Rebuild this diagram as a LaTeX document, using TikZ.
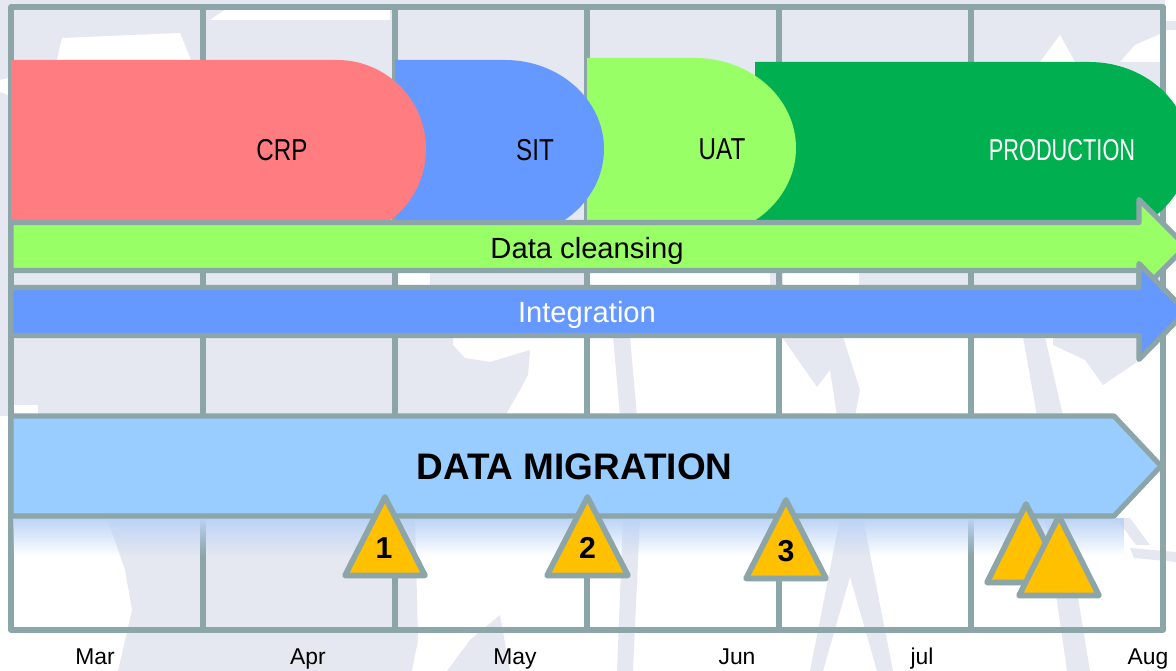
\documentclass[tikz,border=0pt]{standalone}
\usepackage{fontspec}
\setmainfont{Liberation Sans}
\usetikzlibrary{fadings}
\definecolor{gridgrey}{HTML}{8BA5A8}
\definecolor{maptint}{HTML}{E6E8F1}
\definecolor{shadeblue}{HTML}{BBD3F5}
\definecolor{crpred}{HTML}{FF7C80}
\definecolor{sitblue}{HTML}{6699FF}
\definecolor{uatgreen}{HTML}{99FF66}
\definecolor{prodgreen}{HTML}{00B050}
\definecolor{migblue}{HTML}{99CCFF}
\definecolor{flagamber}{HTML}{FFC000}
\tikzset{
  gridline/.style={draw=gridgrey,line width=1.45pt},
  barrow/.style={draw=gridgrey,line width=1.45pt,miter limit=10},
  flag/.style={draw=gridgrey,fill=flagamber,line width=1.6pt},
  phasetext/.style={font=\fontsize{8.6}{10}\selectfont,xscale=0.8,transform shape,inner sep=0pt},
  bartext/.style={font=\fontsize{8.3}{10}\selectfont,inner sep=0pt},
  monthtext/.style={font=\fontsize{6.5}{8}\selectfont,anchor=base,inner sep=0pt},
  flagtext/.style={font=\bfseries\fontsize{8.6}{10}\selectfont,inner sep=0pt},
}
\begin{document}
\begin{tikzpicture}[line cap=round,line join=round,x=0.01cm,y=-0.01cm]
\clip (0,0) rectangle (1176,671);
\useasboundingbox (0,0) rectangle (1176,671);
\fill [maptint] (0,0) rectangle (1165,337);
\fill [maptint] (1165,21) rectangle (1176,30);
\fill [white] (57,60)-- (62,38)-- (180,33)-- (191,60)-- cycle;
\fill [white] (210,20)-- (225,10)-- (390,10)-- (390,20)-- cycle;
\fill [white] (0,80)-- (8,78)-- (8,95)-- (0,92)-- cycle;
\fill [white] (1040,62)-- (1060,35)-- (1075,62)-- cycle;
\fill [white] (1120,62)-- (1135,45)-- (1165,32)-- (1165,62)-- cycle;
\fill [white] (398,273) rectangle (430,287);
\fill [white] (587,273) rectangle (770,287);
\fill [white] (783,273) rectangle (859,287);
\fill [maptint] (0,337)-- (453,337)-- (453,345)-- (465,358)-- (490,362)-- (530,350)-- (528,375)-- (520,390)-- (505,416)-- (0,416)-- cycle;
\fill [white] (12,405)-- (38,405)-- (38,414)-- (12,414)-- cycle;
\fill [maptint] (613,337)-- (630,337)-- (637,416)-- (620,416)-- cycle;
\fill [maptint] (782,337)-- (843,337)-- (860,390)-- (855,416)-- (837,416)-- (830,370)-- (817,387)-- cycle;
\fill [maptint] (1023,337)-- (1045,337)-- (1063,416)-- (1037,416)-- cycle;
\fill [maptint] (1053,345)-- (1053,337)-- (1137,337)-- (1137,362)-- (1103,385)-- (1085,360)-- cycle;
\fill [maptint] (107,518)-- (415,518)-- (418,640)-- (412,671)-- (118,671)-- (132,610)-- (125,570)-- cycle;
\fill [maptint] (447,671)-- (470,640)-- (500,615)-- (510,671)-- cycle;
\fill [maptint] (623,518)-- (640,518)-- (633,671)-- (617,671)-- cycle;
\fill [maptint] (840,518)-- (863,518)-- (893,671)-- (877,671)-- (850,577)-- (823,671)-- (810,671)-- cycle;
\fill [maptint] (1045,518)-- (1065,518)-- (1090,671)-- (1067,671)-- cycle;
\fill [maptint] (1130,548)-- (1176,552)-- (1176,562)-- (1134,558)-- cycle;
\fill [maptint] (1116,518)-- (1130,518)-- (1150,545)-- (1136,545)-- cycle;
\draw [gridline] (11,7) rectangle (1163,630);
\foreach \gridx in {203,395,587,779,971}
  \draw [gridline] (\gridx,7)-- (\gridx,630);
\fill [prodgreen] (755,62)-- (1089,62) arc[start angle=-90,end angle=90,x radius=100,y radius=88]-- (755,238)-- cycle;
\fill [uatgreen] (587,58)-- (695,58) arc[start angle=-90,end angle=90,x radius=101,y radius=90]-- (587,238)-- cycle;
\fill [sitblue] (395,60)-- (505,60) arc[start angle=-90,end angle=90,x radius=99,y radius=89]-- (395,238)-- cycle;
\fill [crpred] (11,60)-- (337,60) arc[start angle=-90,end angle=90,x radius=89,y radius=89]-- (11,238)-- cycle;
\node [phasetext] (crp) at (282,150) {CRP};
\node [phasetext] (sit) at (535,150) {SIT};
\node [phasetext] (uat) at (722,149) {UAT};
\node [phasetext,xscale=0.9,text=white] (production) at (1062,150) {PRODUCTION};
\draw [barrow,fill=uatgreen] (11,222.5)-- (1139,222.5)-- (1139,199.5)-- (1186,246.5)-- (1139,293.5)-- (1139,270.5)-- (11,270.5)-- cycle;
\node [bartext] (cleansing) at (587,251) {Data cleansing};
\draw [barrow,fill=sitblue] (11,287.5)-- (1139,287.5)-- (1139,263.5)-- (1186,311.5)-- (1139,359.5)-- (1139,335.5)-- (11,335.5)-- cycle;
\node [bartext,text=white] (integration) at (587,315) {Integration};
\fill [shadeblue,path fading=south] (13,518) rectangle (1125,556);
\draw [barrow,fill=migblue] (11,416)-- (1114,416)-- (1161,466)-- (1114,516)-- (11,516)-- cycle;
\node [font=\bfseries\fontsize{10.5}{12}\selectfont,inner sep=0pt] (migration) at (574.5,467) {DATA MIGRATION};
\draw [flag] (385,497)-- (425,575.5)-- (345,575.5)-- cycle;
\draw [flag] (587.5,497)-- (628,575.5)-- (547,575.5)-- cycle;
\draw [flag] (786,500)-- (826,578.5)-- (746,578.5)-- cycle;
\draw [flag] (1026,504)-- (1066,582.5)-- (987,582.5)-- cycle;
\draw [flag] (1059,516)-- (1099,595.5)-- (1019,595.5)-- cycle;
\node [flagtext] (flagone) at (384,548) {1};
\node [flagtext] (flagtwo) at (587.5,548) {2};
\node [flagtext] (flagthree) at (786,551) {3};
\node [monthtext] (mar) at (95,665) {Mar};
\node [monthtext] (apr) at (308,665) {Apr};
\node [monthtext] (may) at (515,665) {May};
\node [monthtext] (jun) at (737,665) {Jun};
\node [monthtext] (jul) at (922,665) {jul};
\node [monthtext] (aug) at (1148,665) {Aug};
\end{tikzpicture}
\end{document}
